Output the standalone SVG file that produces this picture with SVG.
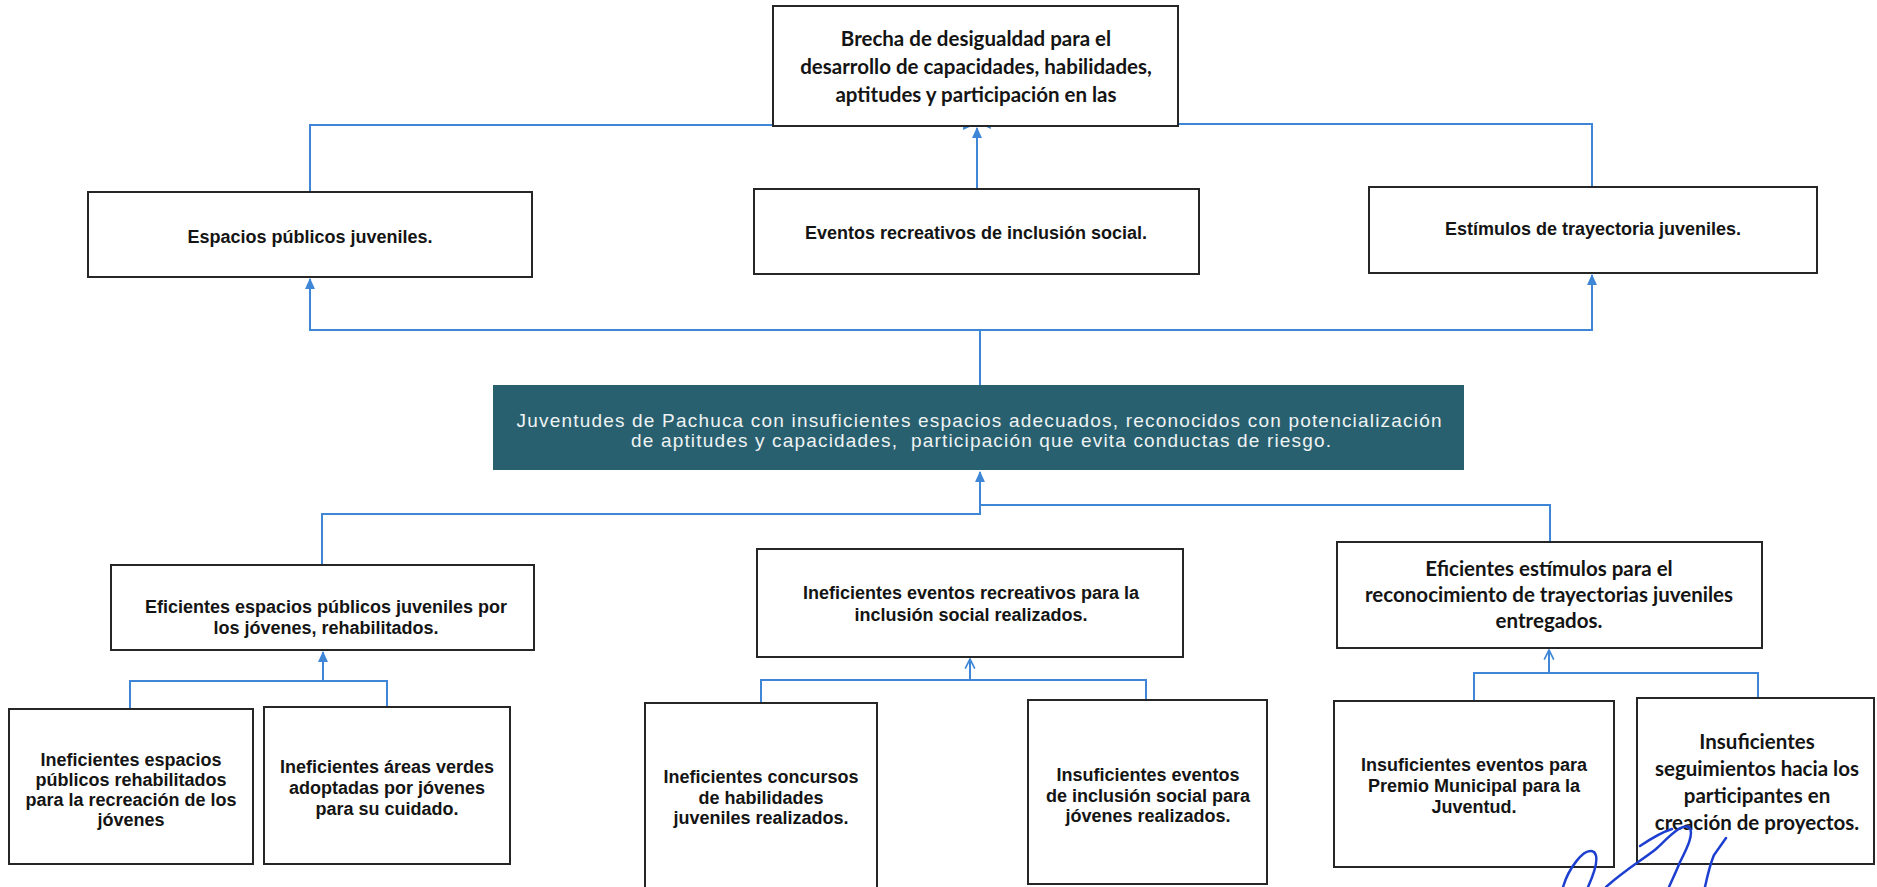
<svg xmlns="http://www.w3.org/2000/svg" width="1877" height="887" viewBox="0 0 1877 887">
<defs>
<marker id="tri" viewBox="0 0 10 10" refX="9" refY="5" markerWidth="11" markerHeight="11" markerUnits="userSpaceOnUse" orient="auto"><path d="M0,0.5 L10,5 L0,9.5 z" fill="#3f87d6"/></marker>
<marker id="chev" viewBox="0 0 10 10" refX="9" refY="5" markerWidth="12" markerHeight="12" markerUnits="userSpaceOnUse" orient="auto"><path d="M1,1 L9,5 L1,9" fill="none" stroke="#3f87d6" stroke-width="1.4"/></marker>
</defs>
<style>
.box{fill:#fff;stroke:#262626;stroke-width:2}
.ar{font-family:"Liberation Sans",Arial,sans-serif;font-weight:bold;font-size:18px;fill:#141414;text-anchor:middle}
.ca{font-family:Lato,"Liberation Sans",sans-serif;font-weight:bold;font-size:20.5px;fill:#141414;text-anchor:middle}
.tl{font-family:"Liberation Sans",Arial,sans-serif;font-size:19px;fill:#eef3f4;text-anchor:middle}
.cn{fill:none;stroke:#3f87d6;stroke-width:2}
.sig{fill:none;stroke:#1c3fd0;stroke-width:2.5;stroke-linecap:round}
</style>
<rect width="1877" height="887" fill="#ffffff"/>

<g id="connectors">
<path class="cn" d="M310,192 V125 H973" marker-end="url(#tri)"/>
<path class="cn" d="M1592,187 V124 H981" marker-end="url(#tri)"/>
<path class="cn" d="M977,189 V128" marker-end="url(#tri)"/>
<path class="cn" d="M980,385 V330 H310 V279" marker-end="url(#tri)"/>
<path class="cn" d="M980,330 H1592 V275" marker-end="url(#tri)"/>
<path class="cn" d="M322,565 V514 H980 V472" marker-end="url(#tri)"/>
<path class="cn" d="M1550,542 V505 H980"/>
<path class="cn" d="M130,709 V681 H387 V707"/>
<path class="cn" d="M323,681 V652" marker-end="url(#tri)"/>
<path class="cn" d="M761,703 V680 H1146 V700"/>
<path class="cn" d="M970,680 V659" marker-end="url(#chev)"/>
<path class="cn" d="M1474,701 V673 H1758 V698"/>
<path class="cn" d="M1549,673 V650" marker-end="url(#chev)"/>
</g>

<g id="n-brecha">
<rect class="box" x="773" y="6" width="405" height="120"/>
<text class="ca" x="976" y="46">Brecha de desigualdad para el</text>
<text class="ca" x="976" y="74">desarrollo de capacidades, habilidades,</text>
<text class="ca" x="976" y="102">aptitudes y participación en las</text>
</g>

<g id="n-espacios">
<rect class="box" x="88" y="192" width="444" height="85"/>
<text class="ar" x="310" y="243">Espacios públicos juveniles.</text>
</g>

<g id="n-eventos">
<rect class="box" x="754" y="189" width="445" height="85"/>
<text class="ar" x="976" y="239">Eventos recreativos de inclusión social.</text>
</g>

<g id="n-estimulos">
<rect class="box" x="1369" y="187" width="448" height="86"/>
<text class="ar" x="1593" y="235">Estímulos de trayectoria juveniles.</text>
</g>

<g id="n-juventudes">
<rect x="493" y="385" width="971" height="85" fill="#29606f"/>
<text class="tl" x="979" y="427" textLength="925" lengthAdjust="spacing">Juventudes de Pachuca con insuficientes espacios adecuados, reconocidos con potencialización</text>
<text class="tl" x="981" y="447" textLength="700" lengthAdjust="spacing" xml:space="preserve">de aptitudes y capacidades,  participación que evita conductas de riesgo.</text>
</g>

<g id="n-eficientes-espacios">
<rect class="box" x="111" y="565" width="423" height="85"/>
<text class="ar" x="326" y="613">Eficientes espacios públicos juveniles por</text>
<text class="ar" x="326" y="634">los jóvenes, rehabilitados.</text>
</g>

<g id="n-ineficientes-eventos">
<rect class="box" x="757" y="549" width="426" height="108"/>
<text class="ar" x="971" y="599">Ineficientes eventos recreativos para la</text>
<text class="ar" x="971" y="621">inclusión social realizados.</text>
</g>

<g id="n-eficientes-estimulos">
<rect class="box" x="1337" y="542" width="425" height="106"/>
<text class="ca" x="1549" y="576">Eficientes estímulos para el</text>
<text class="ca" x="1549" y="602">reconocimiento de trayectorias juveniles</text>
<text class="ca" x="1549" y="628">entregados.</text>
</g>

<g id="n-ineficientes-espacios">
<rect class="box" x="9" y="709" width="244" height="155"/>
<text class="ar" x="131" y="766">Ineficientes espacios</text>
<text class="ar" x="131" y="786">públicos rehabilitados</text>
<text class="ar" x="131" y="806">para la recreación de los</text>
<text class="ar" x="131" y="826">jóvenes</text>
</g>

<g id="n-areas-verdes">
<rect class="box" x="264" y="707" width="246" height="157"/>
<text class="ar" x="387" y="773">Ineficientes áreas verdes</text>
<text class="ar" x="387" y="794">adoptadas por jóvenes</text>
<text class="ar" x="387" y="815">para su cuidado.</text>
</g>

<g id="n-concursos">
<rect class="box" x="645" y="703" width="232" height="200"/>
<text class="ar" x="761" y="783">Ineficientes concursos</text>
<text class="ar" x="761" y="804">de habilidades</text>
<text class="ar" x="761" y="824">juveniles realizados.</text>
</g>

<g id="n-inclusion">
<rect class="box" x="1028" y="700" width="239" height="184"/>
<text class="ar" x="1148" y="781">Insuficientes eventos</text>
<text class="ar" x="1148" y="802">de inclusión social para</text>
<text class="ar" x="1148" y="822">jóvenes realizados.</text>
</g>

<g id="n-premio">
<rect class="box" x="1334" y="701" width="280" height="166"/>
<text class="ar" x="1474" y="771">Insuficientes eventos para</text>
<text class="ar" x="1474" y="792">Premio Municipal para la</text>
<text class="ar" x="1474" y="813">Juventud.</text>
</g>

<g id="n-seguimientos">
<rect class="box" x="1637" y="698" width="237" height="166"/>
<text class="ca" x="1757" y="749">Insuficientes</text>
<text class="ca" x="1757" y="776">seguimientos hacia los</text>
<text class="ca" x="1757" y="803">participantes en</text>
<text class="ca" x="1757" y="830">creación de proyectos.</text>
</g>

<g id="signature">
<path class="sig" d="M1563,887 C1568,870 1584,846 1594,852 C1600,858 1593,876 1588,887"/>
<path class="sig" d="M1606,887 C1625,870 1645,858 1656,849 C1668,838 1680,824 1689,827 C1695,833 1686,850 1680,862 C1676,872 1672,880 1669,887"/>
<path class="sig" d="M1640,846 C1652,838 1662,832 1672,829"/>
<path class="sig" d="M1705,887 C1708,873 1711,862 1714,855 L1726,838"/>
</g>
</svg>
